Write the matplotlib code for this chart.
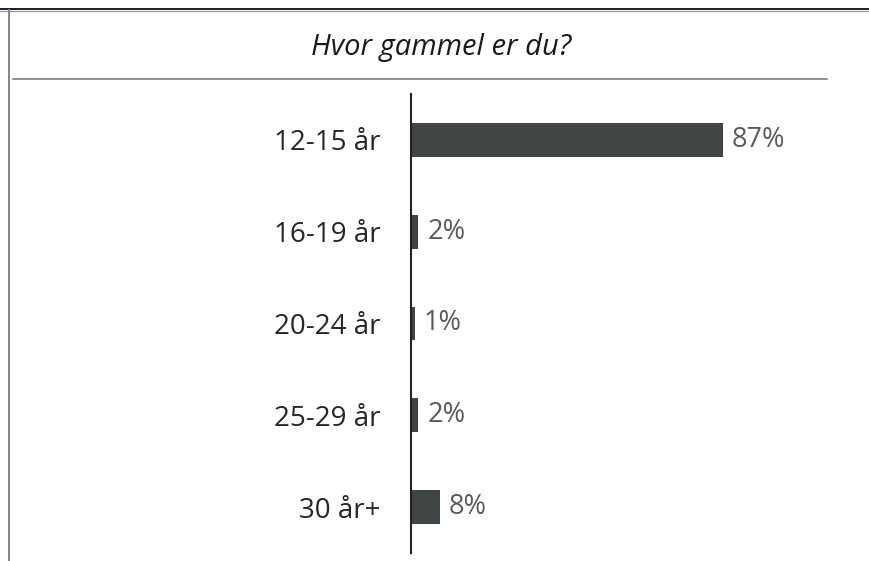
import matplotlib.pyplot as plt
from matplotlib.lines import Line2D

title = "Hvor gammel er du?"
categories = ["12-15 år", "16-19 år", "20-24 år", "25-29 år", "30 år+"]
values = [87, 2, 1, 2, 8]

W, H = 870, 561
fig = plt.figure(figsize=(W / 100, H / 100), dpi=100)
fig.patch.set_facecolor("white")

# frame lines of the screenshot
fig.add_artist(Line2D([0, 1], [1 - 8.5 / H, 1 - 8.5 / H], color="#1e1e1e", lw=1.4))
fig.add_artist(Line2D([0, 1], [1 - 10.5 / H, 1 - 10.5 / H], color="#8a98a8", lw=0.9))
fig.add_artist(Line2D([8.8 / W, 8.8 / W], [0, 1 - 10 / H], color="#7a8796", lw=1.4))
fig.add_artist(Line2D([13 / W, 827 / W], [1 - 79 / H, 1 - 79 / H], color="#808080", lw=1.2))

fig.text(441 / W, 1 - 47 / H, title, ha="center", va="center",
         fontsize=21, style="italic", family="Open Sans", color="#1a1a1a")

# plot area: x from 411px, 3.586 px per %
left, right = 411, 411 + 100 * 312 / 87
top, bottom = 94, 553
ax = fig.add_axes([left / W, 1 - bottom / H, (right - left) / W, (bottom - top) / H])
ypos = list(range(len(categories)))
ax.barh(ypos, values, height=0.37, color="#404546")
ax.set_xlim(0, 100)
ax.set_ylim(len(categories) - 0.5, -0.5)
for s in ["top", "right", "bottom"]:
    ax.spines[s].set_visible(False)
ax.spines["left"].set_color("#222222")
ax.spines["left"].set_linewidth(1.5)
ax.set_xticks([])
ax.set_yticks(ypos)
ax.set_yticklabels(categories, fontsize=20, family="Open Sans", color="#262626")
ax.tick_params(axis="y", length=0, pad=22)
for y, v in zip(ypos, values):
    ax.text(v + 2.5, y, f"{v}%", va="center", ha="left", fontsize=19.5,
            family="Open Sans", color="#5a5a5a", clip_on=False)

fig.savefig("out.png", dpi=100)
